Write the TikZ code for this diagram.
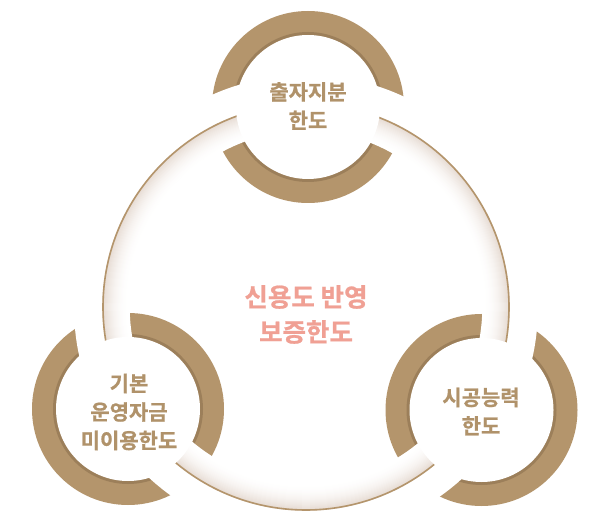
\documentclass[tikz,border=0pt]{standalone}
\usepackage{fontspec}
\newfontfamily\krfont{Noto Sans CJK KR}[BoldFont={Noto Sans CJK KR Bold}, BoldFeatures={FakeBold=0.8}]
\definecolor{ringtan}{RGB}{180,149,108}
\definecolor{rimtan}{RGB}{156,127,90}
\definecolor{shadetan}{RGB}{216,198,184}
\definecolor{texttan}{RGB}{176,146,106}
\definecolor{textpink}{RGB}{240,160,148}

\begin{document}
\begin{tikzpicture}[
        x=1pt,
        y=1pt,
        ring-outer/.style={
            fill=ringtan,
        },
        ring-rim/.style={
            fill=rimtan,
        },
        ring-inner/.style={
            fill=white,
        },
        band-cut/.style={
            draw=white,
            line width=55pt,
        },
        band-shade/.style={
            draw=shadetan!#1!white,
            line width=1.4pt,
        },
        band-line/.style={
            draw=ringtan,
            line width=1.6pt,
        },
        label-small/.style={
            text=texttan,
            align=center,
            font=\krfont\bfseries\fontsize{21}{28.5}\selectfont,
        },
        label-main/.style={
            text=textpink,
            align=center,
            font=\krfont\bfseries\fontsize{25.5}{35}\selectfont,
        },
    ]

    \useasboundingbox[fill=white] (0,0) rectangle (596,514);

    % Centres.
    \coordinate (big) at (306,207);
    \coordinate (c1) at (308,407);
    \coordinate (c2) at (128,105);
    \coordinate (c3) at (481.5,104);

    % Outer rings.
    \foreach \c in {c1, c2, c3}
    \fill[ring-outer] (\c) circle (96);

    \foreach \c in {c1, c2, c3}
    \fill[ring-rim] (\c) circle (75);

    % White band cutting the rings.
    \draw[band-cut] (big) circle (204.5);

    % Soft shadow along the big circle.
    \foreach \i in {0, ..., 26} {
        \pgfmathsetmacro\p{65*(1-\i/26)^2}
        \draw[band-shade=\p] (big) circle (203-\i);
    }

    \draw[band-line] (big) circle (203);

    % Inner discs.
    \foreach \c in {c1, c2, c3}
    \fill[ring-inner] (\c) circle (72);

    % Labels.
    \node[label-small] (t1) at (308,408) {출자지분\\한도};
    \node[label-small] (t2) at (129,102) {기본\\운영자금\\미이용한도};
    \node[label-small] (t3) at (481,102.5) {시공능력\\한도};
    \node[label-main] (t0) at (306,199.5) {신용도 반영\\보증한도};
\end{tikzpicture}
\end{document}
